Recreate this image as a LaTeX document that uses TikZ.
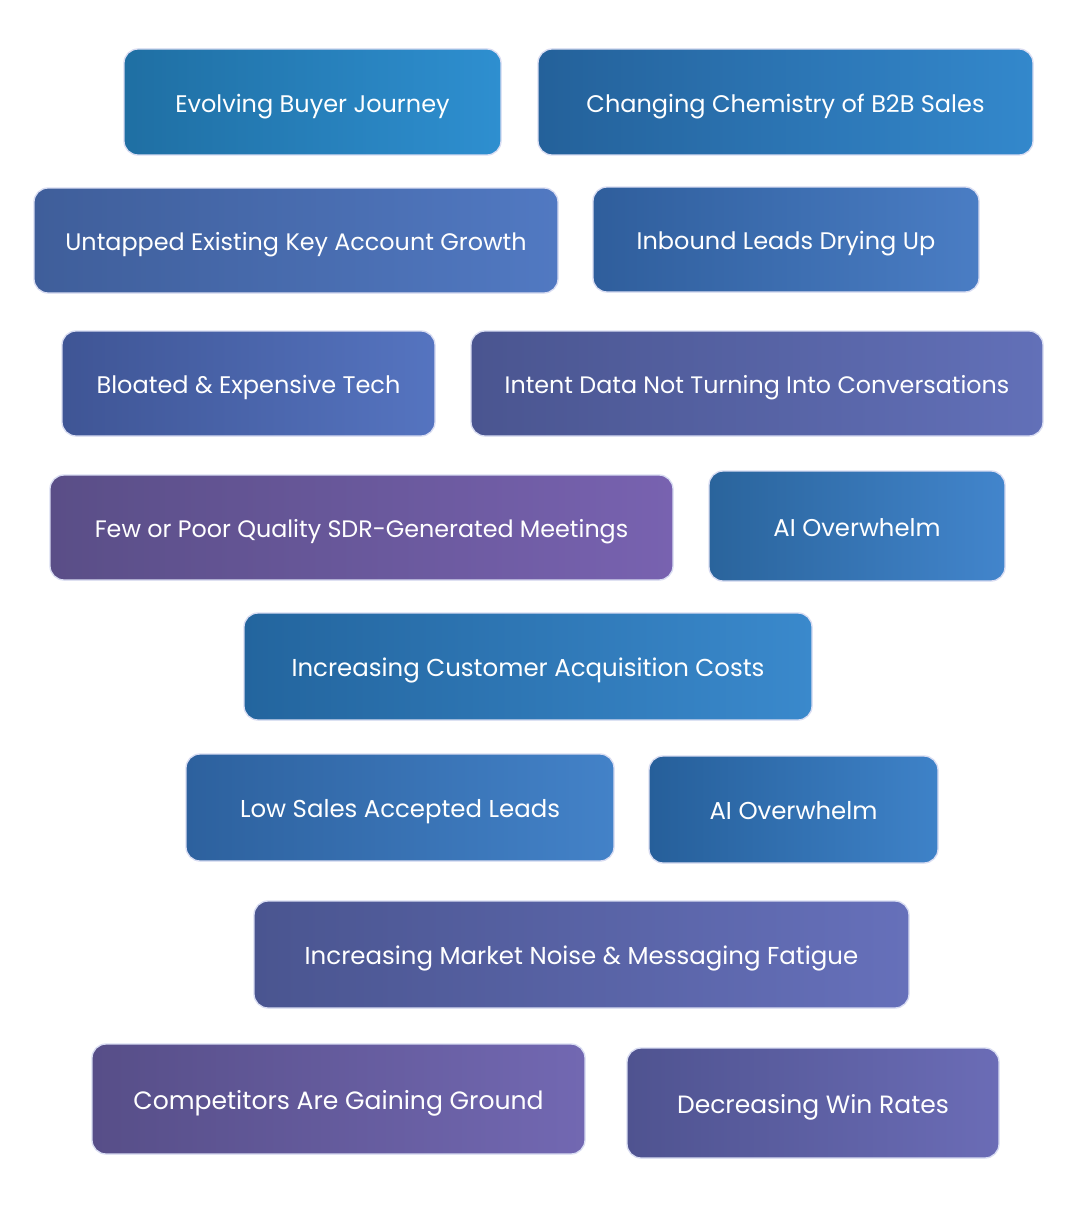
\documentclass[tikz,border=0pt]{standalone}
\usepackage{fontspec}
\setmainfont{Poppins}
\definecolor{c1l}{HTML}{1F6FA3}\definecolor{c1r}{HTML}{2E8FD0}
\definecolor{c2l}{HTML}{24619A}\definecolor{c2r}{HTML}{3388CC}
\definecolor{c3l}{HTML}{3F5E9A}\definecolor{c3r}{HTML}{5179C2}
\definecolor{c4l}{HTML}{2F5E9C}\definecolor{c4r}{HTML}{4A7DC4}
\definecolor{c5l}{HTML}{3F5595}\definecolor{c5r}{HTML}{5574C0}
\definecolor{c6l}{HTML}{4A5590}\definecolor{c6r}{HTML}{6270B8}
\definecolor{c7l}{HTML}{5A4E87}\definecolor{c7r}{HTML}{7862B0}
\definecolor{c8l}{HTML}{2A649C}\definecolor{c8r}{HTML}{4285CC}
\definecolor{c9l}{HTML}{23659E}\definecolor{c9r}{HTML}{3A89CC}
\definecolor{c10l}{HTML}{2D619E}\definecolor{c10r}{HTML}{4382C8}
\definecolor{c11l}{HTML}{265F9A}\definecolor{c11r}{HTML}{3E82C8}
\definecolor{c12l}{HTML}{4A5590}\definecolor{c12r}{HTML}{6670BA}
\definecolor{c13l}{HTML}{574E88}\definecolor{c13r}{HTML}{7268B2}
\definecolor{c14l}{HTML}{4F5390}\definecolor{c14r}{HTML}{6B6CB6}
\definecolor{rim}{HTML}{D8DCF2}
\newcommand{\fs}[2]{\fontsize{#1}{#1}\selectfont\smash{\raisebox{-7.6pt}{#2}}}
\tikzset{
  card/.style n args={4}{draw=rim, line width=1pt, rounded corners=10.5pt,
    text=white, inner sep=0pt, outer sep=0pt,
    minimum width=#1*0.75pt, minimum height=#2*0.75pt,
    left color=#3, right color=#4}
}
\begin{document}
\begin{tikzpicture}[x=0.75pt,y=-0.75pt]
\useasboundingbox (0,0) rectangle (1080,1220);
\fill[white] (0,0) rectangle (1080,1220);
\node[card={377}{106}{c1l}{c1r}] (n1) at (312.5,102) {\fs{18}{Evolving Buyer Journey}};
\node[card={495}{106}{c2l}{c2r}] (n2) at (785.5,102) {\fs{18}{Changing Chemistry of B2B Sales}};
\node[card={524}{105}{c3l}{c3r}] (n3) at (296,240.5) {\fs{17.9}{Untapped Existing Key Account Growth}};
\node[card={386}{105}{c4l}{c4r}] (n4) at (786,239.5) {\fs{18}{Inbound Leads Drying Up}};
\node[card={373}{105}{c5l}{c5r}] (n5) at (248.5,383.5) {\fs{18}{Bloated \& Expensive Tech}};
\node[card={572}{105}{c6l}{c6r}] (n6) at (757,383.5) {\fs{17.85}{Intent Data Not Turning Into Conversations}};
\node[card={623}{105}{c7l}{c7r}] (n7) at (361.5,527.5) {\fs{17.85}{Few or Poor Quality SDR-Generated Meetings}};
\node[card={296}{110}{c8l}{c8r}] (n8) at (857,526) {\fs{18.2}{AI Overwhelm}};
\node[card={568}{107}{c9l}{c9r}] (n9) at (528,666.5) {\fs{18.35}{Increasing Customer Acquisition Costs}};
\node[card={428}{107}{c10l}{c10r}] (n10) at (400,807.5) {\fs{18.3}{Low Sales Accepted Leads}};
\node[card={289}{107}{c11l}{c11r}] (n11) at (793.5,809.5) {\fs{18.3}{AI Overwhelm}};
\node[card={655}{107}{c12l}{c12r}] (n12) at (581.5,954.5) {\fs{18.35}{Increasing Market Noise \& Messaging Fatigue}};
\node[card={493}{110}{c13l}{c13r}] (n13) at (338.5,1099) {\fs{18.8}{Competitors Are Gaining Ground}};
\node[card={372}{110}{c14l}{c14r}] (n14) at (813,1103) {\fs{18.75}{Decreasing Win Rates}};
\end{tikzpicture}
\end{document}
